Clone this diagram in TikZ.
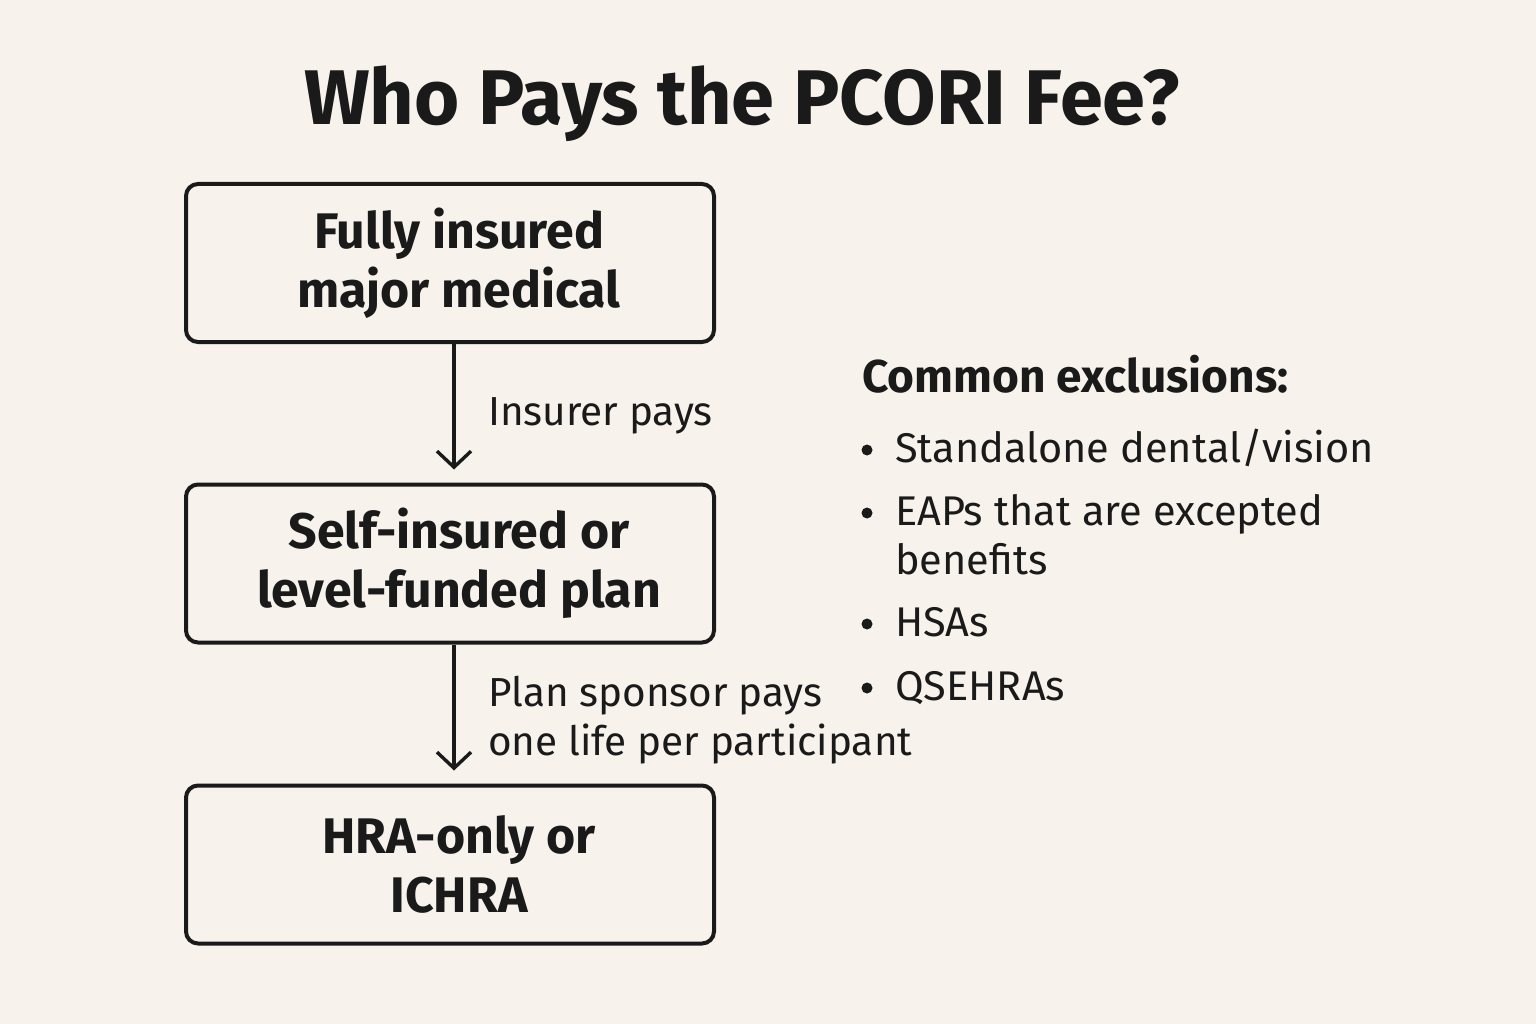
\documentclass[tikz,border=0pt]{standalone}
\usepackage{fontspec}
\setmainfont{Fira Sans}
\usetikzlibrary{arrows.meta}
\definecolor{bg}{HTML}{F7F3EC}
\definecolor{ink}{HTML}{1A1A1A}
\newcommand{\sh}{\hspace*{18pt}}
\begin{document}
\begin{tikzpicture}[x=1pt,y=-1pt,
  box/.style={draw=ink, line width=4pt, rounded corners=12pt, minimum width=528pt, minimum height=158pt, align=center, font=\fontsize{50}{59}\selectfont\bfseries, text=ink, inner sep=0pt},
  arr/.style={draw=ink, line width=3.4pt, shorten >=13pt, -{Straight Barb[length=16pt,width=34pt]}},
  lbl/.style={font=\fontsize{40.5}{49}\selectfont, text=ink, inner sep=0pt, anchor=base west},
  ttl/.style={font=\fontsize{77.5}{84}\selectfont\bfseries, text=ink, inner sep=0pt, anchor=base},
  head/.style={font=\fontsize{46}{52}\selectfont\bfseries, text=ink, inner sep=0pt, anchor=base west},
  itm/.style={font=\fontsize{41.5}{48}\selectfont, text=ink, inner sep=0pt, anchor=base west},
  dot/.style={circle, fill=ink, inner sep=0pt, minimum size=11pt}
]
\fill[bg] (0,0) rectangle (1536,1024);
\useasboundingbox (0,0) rectangle (1536,1024);

\node[ttl] (title) at (742,125) {Who Pays the PCORI Fee?};

\node[box] (b1) at (450,263) {\sh Fully insured\\\sh major medical};
\node[box] (b2) at (450,563.5) {\sh Self-insured or\\\sh level-funded plan};
\node[box] (b3) at (450,864.5) {\sh HRA-only or\\\sh ICHRA};

\draw[arr] ([xshift=4pt]b1.south) -- ([xshift=4pt]b2.north);
\draw[arr] ([xshift=4pt]b2.south) -- ([xshift=4pt]b3.north);

\node[lbl] (l1) at (488,425) {Insurer pays};
\node[lbl] (l2a) at (488,706) {Plan sponsor pays};
\node[lbl] (l2b) at (488,755) {one life per participant};

\node[head] (h) at (862,392) {Common exclusions:};
\node[dot] (d1) at (867,450) {};
\node[itm] (i1) at (895,462) {Standalone dental/vision};
\node[dot] (d2) at (867,513) {};
\node[itm] (i2) at (895,525) {EAPs that are excepted};
\node[itm] (i2b) at (895,574) {benefits};
\node[dot] (d3) at (867,624) {};
\node[itm] (i3) at (895,636) {HSAs};
\node[dot] (d4) at (867,688) {};
\node[itm] (i4) at (895,700) {QSEHRAs};
\end{tikzpicture}
\end{document}
